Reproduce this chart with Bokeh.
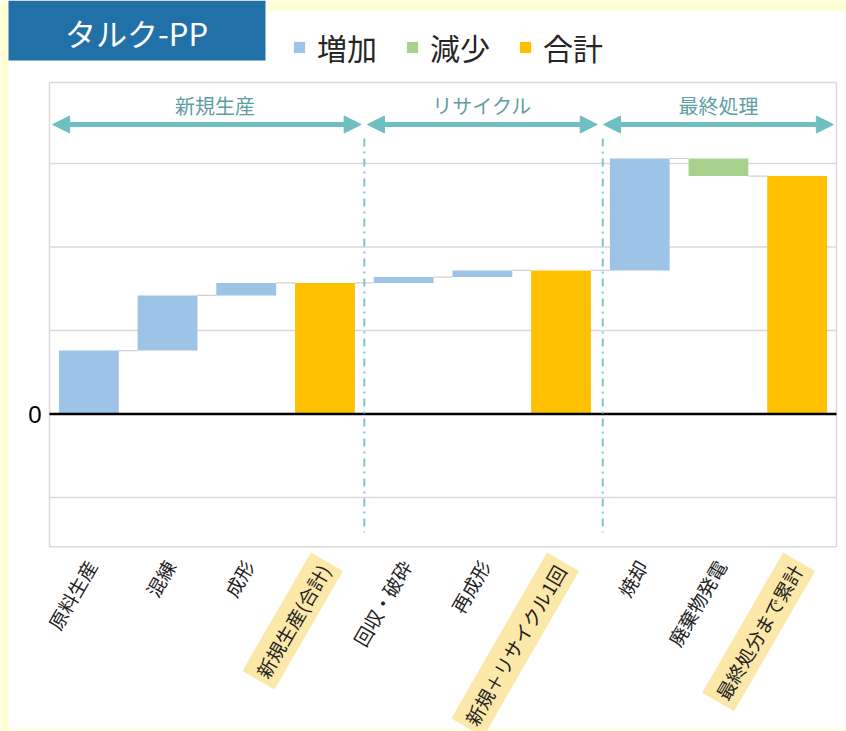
from bokeh.plotting import figure
from bokeh.models import (Range1d, Label, Arrow, NormalHead, Legend, LegendItem,
                          ColumnDataSource)
from bokeh.embed import file_html
from bokeh.resources import INLINE
from bokeh.core.properties import value

# ---- data ----
categories = ["原料生産", "混練", "成形", "新規生産(合計)", "回収・破砕", "再成形",
              "新規＋リサイクル1回", "焼却", "廃棄物発電", "最終処分まで累計"]
steps = [0.76, 0.66, 0.15, 0.0, 0.07, 0.08, 0.0, 1.34, -0.21, 0.0]
is_total = [False, False, False, True, False, False, True, False, False, True]
sections = ["新規生産", "リサイクル", "最終処理"]
section_bounds = [(0, 4), (4, 7), (7, 10)]
legend_labels = ["増加", "減少", "合計"]
y_ticks_grid = [-1, 1, 2, 3]
y_tick_labels = {0: "0"}

COL = {"増加": "#9DC3E6", "減少": "#A9D18E", "合計": "#FFC000"}
TEAL = "#6FBEC2"
JP = "Noto Sans CJK JP"
YELLOW = "#FFFFD2"

W, H = 846, 731
# plot-area geometry (pixels) -> data scale
PX_X0, PX_XU = 49.0, 78.7      # pixel x of category 0 edge, pixels per category
PX_Y0, PX_YU = 413.5, 83.5     # pixel y of value 0, pixels per unit
NCAT = len(categories)
Y_LO, Y_HI = -1.59, 3.97       # plot area value range


def dx(px):
    return (px - PX_X0) / PX_XU


def dy(py):
    return (PX_Y0 - py) / PX_YU


# ---- waterfall computation ----
xs, bottoms, tops, kinds, levels = [], [], [], [], []
running = 0.0
for i, (s, t) in enumerate(zip(steps, is_total)):
    if t:
        b, tp, k = 0.0, running, "合計"
    else:
        b, tp = running, running + s
        k = "増加" if s >= 0 else "減少"
    running = tp
    xs.append(i + 0.5); bottoms.append(b); tops.append(tp); kinds.append(k); levels.append(running)

BW = 0.76
p = figure(width=W, height=H, x_range=Range1d(dx(0), dx(W)), y_range=Range1d(dy(H), dy(0)),
           output_backend="svg", toolbar_location=None, min_border=0)
p.axis.visible = False
p.grid.visible = False
p.outline_line_color = None
p.background_fill_color = "white"
p.border_fill_color = "white"

# page decoration (yellow margins)
p.quad(left=[dx(0), dx(268), dx(0)], right=[dx(8), dx(W), dx(W)],
       top=[dy(0), dy(0), dy(729)], bottom=[dy(H), dy(10), dy(H)],
       fill_color=YELLOW, line_color=None)

# grid lines and plot-area frame
p.segment(x0=[0] * len(y_ticks_grid), x1=[NCAT] * len(y_ticks_grid), y0=y_ticks_grid,
          y1=y_ticks_grid, line_color="#D9D9D9", line_width=1.5)
p.quad(left=[0], right=[NCAT], bottom=[Y_LO], top=[Y_HI], fill_color=None,
       line_color="#D9D9D9", line_width=1.5)

# connectors
cx0, cx1, cy = [], [], []
for i in range(NCAT - 1):
    cx0.append(xs[i] + BW / 2); cx1.append(xs[i + 1] - BW / 2); cy.append(levels[i])
p.segment(x0=cx0, y0=cy, x1=cx1, y1=cy, line_color="#D0D0D0", line_width=1.2)

renderers = {}
for k in legend_labels:
    idx = [i for i in range(len(kinds)) if kinds[i] == k]
    src = ColumnDataSource(dict(x=[xs[i] for i in idx], b=[bottoms[i] for i in idx],
                                t=[tops[i] for i in idx]))
    renderers[k] = p.vbar(x="x", bottom="b", top="t", width=BW, source=src,
                          fill_color=COL[k], line_color=None)

# zero axis line and its label
p.segment(x0=[0], x1=[NCAT], y0=[0], y1=[0], line_color="black", line_width=2.5)
for v, t in y_tick_labels.items():
    p.text(x=[dx(41)], y=[v], text=[t], text_align="right", text_baseline="middle",
           text_font=value("Liberation Sans"), text_font_size="24px", text_color="black")

# separators
sep_x = [section_bounds[1][0], section_bounds[2][0] + 0.03]
p.segment(x0=sep_x, y0=[dy(138)] * 2, x1=sep_x, y1=[dy(532)] * 2, line_color="#7CC5C9",
          line_width=2, line_dash="8 5 2 5")

# section arrows and labels
for j, (name, (a, b)) in enumerate(zip(sections, section_bounds)):
    p.add_layout(Arrow(x_start=a + 0.04, y_start=dy(124), x_end=b - 0.04, y_end=dy(124),
                       line_color=TEAL, line_width=5,
                       start=NormalHead(size=17, fill_color=TEAL, line_color=TEAL, line_width=1),
                       end=NormalHead(size=17, fill_color=TEAL, line_color=TEAL, line_width=1)))
    p.add_layout(Label(x=(a + b) / 2, x_offset=(8 if j == 0 else 0), y=dy(105), text=name,
                       text_align="center", text_baseline="middle", text_font=JP,
                       text_font_size="20px", text_color="#5E9EA3"))

# category labels (rotated)
for i, c in enumerate(categories):
    kw = {}
    if is_total[i]:
        kw = dict(background_fill_color="#FCE8A8", background_fill_alpha=1.0, padding=5)
    p.add_layout(Label(x=xs[i], y=Y_LO, x_offset=2, y_offset=-15, text=c, angle=1.047,
                       text_align="right", text_baseline="middle", text_font=JP,
                       text_font_size="19px", text_color="#222222", **kw))

# title box
p.quad(left=[dx(8)], right=[dx(265)], top=[dy(0)], bottom=[dy(60)],
       fill_color="#2270A8", line_color=None)
p.add_layout(Label(x=dx(136), y=dy(32), text="タルク-PP", text_align="center",
                   text_baseline="middle", text_font=JP, text_font_size="31px",
                   text_color="white"))

# legend
legend = Legend(items=[LegendItem(label=k, renderers=[renderers[k]]) for k in legend_labels],
                orientation="horizontal", location=(292, H - 69),
                label_text_font=JP, label_text_font_size="30px", label_text_color="#262626",
                glyph_width=14, glyph_height=14, label_standoff=11, spacing=28,
                padding=0, margin=0, border_line_color=None, background_fill_alpha=0)
p.add_layout(legend, "center")

open("out.html", "w").write(file_html(p, INLINE))
